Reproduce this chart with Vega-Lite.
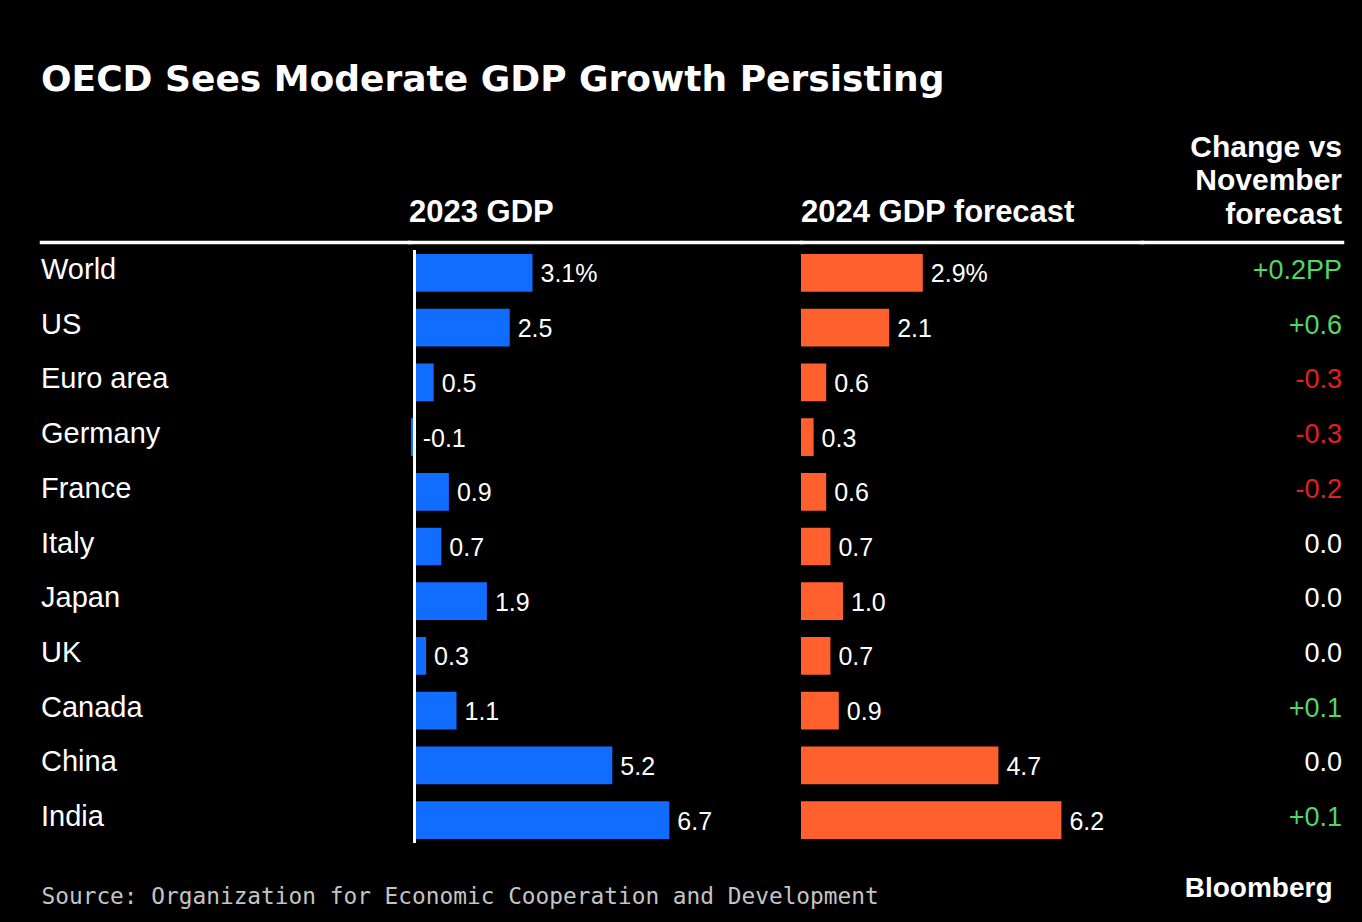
{
  "$schema": "https://vega.github.io/schema/vega-lite/v6.json",
  "background": "black",
  "padding": {"left": 41, "top": 61, "right": 20, "bottom": 21},
  "title": {
    "text": "OECD Sees Moderate GDP Growth Persisting",
    "anchor": "start",
    "font": "DejaVu Sans",
    "fontWeight": "bold",
    "fontSize": 36,
    "color": "white",
    "offset": 34
  },
  "data": {
    "values": [
      {"country": "World", "gdp2023": 3.1, "gdp2024": 2.9, "change": 0.2, "l23": "3.1%", "l24": "2.9%", "lchg": "+0.2PP"},
      {"country": "US", "gdp2023": 2.5, "gdp2024": 2.1, "change": 0.6, "l23": "2.5", "l24": "2.1", "lchg": "+0.6"},
      {"country": "Euro area", "gdp2023": 0.5, "gdp2024": 0.6, "change": -0.3, "l23": "0.5", "l24": "0.6", "lchg": "-0.3"},
      {"country": "Germany", "gdp2023": -0.1, "gdp2024": 0.3, "change": -0.3, "l23": "-0.1", "l24": "0.3", "lchg": "-0.3"},
      {"country": "France", "gdp2023": 0.9, "gdp2024": 0.6, "change": -0.2, "l23": "0.9", "l24": "0.6", "lchg": "-0.2"},
      {"country": "Italy", "gdp2023": 0.7, "gdp2024": 0.7, "change": 0.0, "l23": "0.7", "l24": "0.7", "lchg": "0.0"},
      {"country": "Japan", "gdp2023": 1.9, "gdp2024": 1.0, "change": 0.0, "l23": "1.9", "l24": "1.0", "lchg": "0.0"},
      {"country": "UK", "gdp2023": 0.3, "gdp2024": 0.7, "change": 0.0, "l23": "0.3", "l24": "0.7", "lchg": "0.0"},
      {"country": "Canada", "gdp2023": 1.1, "gdp2024": 0.9, "change": 0.1, "l23": "1.1", "l24": "0.9", "lchg": "+0.1"},
      {"country": "China", "gdp2023": 5.2, "gdp2024": 4.7, "change": 0.0, "l23": "5.2", "l24": "4.7", "lchg": "0.0"},
      {"country": "India", "gdp2023": 6.7, "gdp2024": 6.2, "change": 0.1, "l23": "6.7", "l24": "6.2", "lchg": "+0.1"}
    ]
  },
  "hconcat": [
    {
      "width": 368,
      "height": 593,
      "mark": {"type": "text", "align": "left", "baseline": "alphabetic", "dy": 6, "font": "Liberation Sans", "fontSize": 29, "color": "white"},
      "encoding": {
        "x": {"datum": 0, "type": "quantitative", "scale": {"domain": [0, 1]}, "axis": {"orient": "top", "title": null, "domain": true, "domainColor": "white", "domainWidth": 3.5, "domainCap": "square", "offset": 8}},
        "y": {
          "field": "country", "type": "nominal", "sort": null,
          "scale": {"type": "band", "paddingInner": 0.31, "paddingOuter": 0.075},
          "axis": {
            "title": "Source: Organization for Economic Cooperation and Development",
            "titleAngle": 0, "titleAlign": "left", "titleBaseline": "alphabetic",
            "titleX": 0, "titleY": 653,
            "titleFont": "DejaVu Sans Mono", "titleFontSize": 22.8, "titleFontWeight": "normal", "titleColor": "#c4c4c4"
          }
        },
        "text": {"field": "country"}
      }
    },
    {
      "width": 392,
      "height": 593,
      "title": {"text": "2023 GDP", "anchor": "start", "font": "Liberation Sans", "fontWeight": "bold", "fontSize": 31, "color": "white", "baseline": "bottom", "offset": -17.5},
      "transform": [{"calculate": "max(datum.gdp2023, 0)", "as": "lx23"}],
      "layer": [
        {
          "mark": {"type": "bar", "color": "#116dff"},
          "encoding": {
            "x": {"field": "gdp2023", "type": "quantitative", "scale": {"domain": [-0.15, 10.166], "nice": false, "zero": false}, "axis": {"orient": "top", "title": null, "domain": true, "domainColor": "white", "domainWidth": 3.5, "domainCap": "square", "offset": 8}},
            "y": {"field": "country", "type": "nominal", "sort": null, "scale": {"type": "band", "paddingInner": 0.31, "paddingOuter": 0.075}, "axis": null}
          }
        },
        {
          "mark": {"type": "rule", "color": "white", "strokeWidth": 2},
          "encoding": {
            "x": {"datum": 0, "type": "quantitative"}
          }
        },
        {
          "mark": {"type": "text", "align": "left", "baseline": "alphabetic", "dx": 8, "dy": 9.5, "font": "Liberation Sans", "fontSize": 25, "color": "white"},
          "encoding": {
            "x": {"field": "lx23", "type": "quantitative"},
            "y": {"field": "country", "type": "nominal", "sort": null},
            "text": {"field": "l23"}
          }
        }
      ]
    },
    {
      "width": 341,
      "height": 593,
      "title": {"text": "2024 GDP forecast", "anchor": "start", "font": "Liberation Sans", "fontWeight": "bold", "fontSize": 31, "color": "white", "baseline": "bottom", "offset": -17.5},
      "layer": [
        {
          "mark": {"type": "bar", "color": "#ff602e"},
          "encoding": {
            "x": {"field": "gdp2024", "type": "quantitative", "scale": {"domain": [0, 8.119], "nice": false}, "axis": {"orient": "top", "title": null, "domain": true, "domainColor": "white", "domainWidth": 3.5, "domainCap": "square", "offset": 8}},
            "y": {"field": "country", "type": "nominal", "sort": null, "scale": {"type": "band", "paddingInner": 0.31, "paddingOuter": 0.075}, "axis": null}
          }
        },
        {
          "mark": {"type": "text", "align": "left", "baseline": "alphabetic", "dx": 8, "dy": 9.5, "font": "Liberation Sans", "fontSize": 25, "color": "white"},
          "encoding": {
            "x": {"field": "gdp2024", "type": "quantitative"},
            "y": {"field": "country", "type": "nominal", "sort": null},
            "text": {"field": "l24"}
          }
        }
      ]
    },
    {
      "width": 200,
      "height": 593,
      "title": {"text": ["Change vs", "November", "forecast"], "anchor": "end", "align": "right", "lineHeight": 33.5, "font": "Liberation Sans", "fontWeight": "bold", "fontSize": 30, "color": "white", "baseline": "bottom", "offset": -17.5},
      "mark": {"type": "text", "align": "right", "baseline": "alphabetic", "dy": 6, "font": "Liberation Sans", "fontSize": 27},
      "encoding": {
        "x": {"datum": 1, "type": "quantitative", "scale": {"domain": [0, 1]}, "axis": {"orient": "top", "title": null, "domain": true, "domainColor": "white", "domainWidth": 3.5, "domainCap": "square", "offset": 8}},
        "y": {
          "field": "country", "type": "nominal", "sort": null,
          "scale": {"type": "band", "paddingInner": 0.31, "paddingOuter": 0.075},
          "axis": {
            "orient": "right",
            "title": "Bloomberg",
            "titleAngle": 0, "titleAlign": "right", "titleBaseline": "alphabetic",
            "titleX": -10, "titleY": 646,
            "titleFont": "Liberation Sans", "titleFontSize": 28, "titleFontWeight": "bold", "titleColor": "white"
          }
        },
        "text": {"field": "lchg"},
        "color": {
          "condition": [
            {"test": "datum.change > 0", "value": "#52d665"},
            {"test": "datum.change < 0", "value": "#e3201c"}
          ],
          "value": "white"
        }
      }
    }
  ],
  "spacing": 0,
  "bounds": "flush",
  "config": {
    "view": {"stroke": null},
    "axis": {"labels": false, "ticks": false, "domain": false, "grid": false, "tickSize": 0}
  }
}
